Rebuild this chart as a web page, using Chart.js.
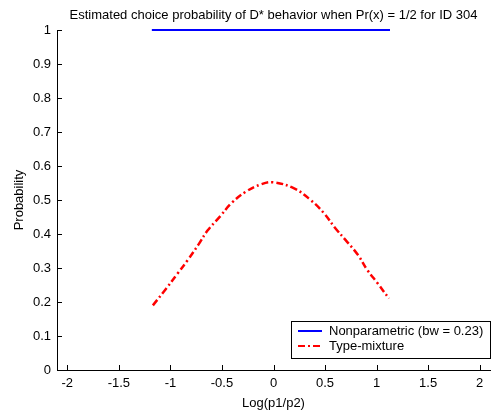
<!DOCTYPE html>
<html>
<head>
<meta charset="utf-8">
<script src="https://cdn.jsdelivr.net/npm/chart.js@4/dist/chart.umd.min.js"></script>
<style>
  html, body { margin: 0; padding: 0; background: #fff; }
  #wrap { width: 491px; height: 411px; }
</style>
</head>
<body>
<div id="wrap"><canvas id="myChart" width="491" height="411"></canvas></div>
<script>
const ctx = document.getElementById('myChart');

// values
const npX = [-1.18, 1.13];
const npY = [1, 1];
const mixX = [-1.17, -1.04, -0.93, -0.83, -0.73, -0.64, -0.52, -0.41, -0.27, -0.12, 0.0, 0.20, 0.36, 0.49, 0.60, 0.70, 0.82, 0.91, 1.01, 1.12];
const mixY = [0.19, 0.24, 0.284, 0.324, 0.368, 0.41, 0.451, 0.49, 0.524, 0.546, 0.552, 0.534, 0.50, 0.461, 0.417, 0.382, 0.338, 0.294, 0.255, 0.21];
const xTicks = [-2, -1.5, -1, -0.5, 0, 0.5, 1, 1.5, 2];
const yTicks = [0, 0.1, 0.2, 0.3, 0.4, 0.5, 0.6, 0.7, 0.8, 0.9, 1];

const font = { family: 'Arial, "Liberation Sans", sans-serif', size: 13 };

const toPoints = (xs, ys) => xs.map((x, i) => ({ x: x, y: ys[i] }));

// matlab-ish inward ticks, title and boxed legend
const decor = {
    id: 'decor',
    afterDraw(chart) {
        const c = chart.ctx;
        const a = chart.chartArea;
        const xs = chart.scales.x, ys = chart.scales.y;
        c.save();
        c.strokeStyle = '#000';
        c.lineWidth = 1;
        c.beginPath();
        xTicks.forEach(v => {
            const p = Math.round(xs.getPixelForValue(v)) + 0.5;
            c.moveTo(p, a.bottom);
            c.lineTo(p, a.bottom - 5);
        });
        yTicks.forEach(v => {
            const p = Math.round(ys.getPixelForValue(v)) + 0.5;
            c.moveTo(a.left, p);
            c.lineTo(a.left + 5, p);
        });
        c.stroke();

        // title
        c.fillStyle = '#000';
        c.font = '13px ' + font.family;
        c.textAlign = 'center';
        c.textBaseline = 'middle';
        c.fillText('Estimated choice probability of D* behavior when Pr(x) = 1/2 for ID 304', (a.left + a.right) / 2, 15);

        // legend
        const lx = 291, ly = 321, lw = 199, lh = 37;
        c.fillStyle = '#fff';
        c.fillRect(lx, ly, lw, lh);
        c.strokeStyle = '#000';
        c.strokeRect(lx + 0.5, ly + 0.5, lw, lh);
        chart.data.datasets.forEach((ds, i) => {
            const yy = ly + 10 + i * 15;
            c.strokeStyle = ds.borderColor;
            c.lineWidth = 2;
            c.setLineDash(ds.borderDash || []);
            c.beginPath();
            c.moveTo(lx + 7, yy);
            c.lineTo(lx + 31, yy);
            c.stroke();
            c.setLineDash([]);
            c.fillStyle = '#000';
            c.font = '13px ' + font.family;
            c.textAlign = 'left';
            c.fillText(ds.label, lx + 38, yy);
        });
        c.restore();
    }
};

new Chart(ctx, {
    type: 'line',
    data: {
        datasets: [
            {
                label: 'Nonparametric (bw = 0.23)',
                data: toPoints(npX, npY),
                borderColor: '#0000ff',
                borderWidth: 2,
                pointRadius: 0,
                clip: false,
            },
            {
                label: 'Type-mixture',
                data: toPoints(mixX, mixY),
                borderColor: '#ff0000',
                borderWidth: 2.5,
                borderDash: [7, 3, 2, 3],
                pointRadius: 0,
                tension: 0.4,
                clip: false,
            }
        ]
    },
    plugins: [decor],
    options: {
        responsive: false,
        animation: false,
        layout: { padding: { top: 30, right: 1, left: 0, bottom: 0 } },
        plugins: {
            legend: { display: false },
            tooltip: { enabled: false },
        },
        scales: {
            x: {
                type: 'linear',
                min: -2.1,
                max: 2.1,
                afterBuildTicks: (s) => { s.ticks = xTicks.map(v => ({ value: v })); },
                afterFit: (s) => { s.height = 41; },
                grid: { display: false, drawTicks: false },
                border: { display: true, color: '#000', width: 1 },
                ticks: { color: '#000', font: font, padding: 6, maxRotation: 0, autoSkip: false, callback: (v) => String(v) },
                title: { display: true, text: 'Log(p1/p2)', color: '#000', font: font, padding: { top: 0, bottom: 0 } },
            },
            y: {
                min: 0,
                max: 1,
                afterBuildTicks: (s) => { s.ticks = yTicks.map(v => ({ value: v })); },
                afterFit: (s) => { s.width = 57; },
                grid: { display: false, drawTicks: false },
                border: { display: true, color: '#000', width: 1 },
                ticks: { color: '#000', font: font, padding: 6, autoSkip: false, callback: (v) => String(v) },
                title: { display: true, text: 'Probability', color: '#000', font: font, padding: { top: 12, bottom: 0 } },
            }
        }
    }
});
</script>
</body>
</html>
